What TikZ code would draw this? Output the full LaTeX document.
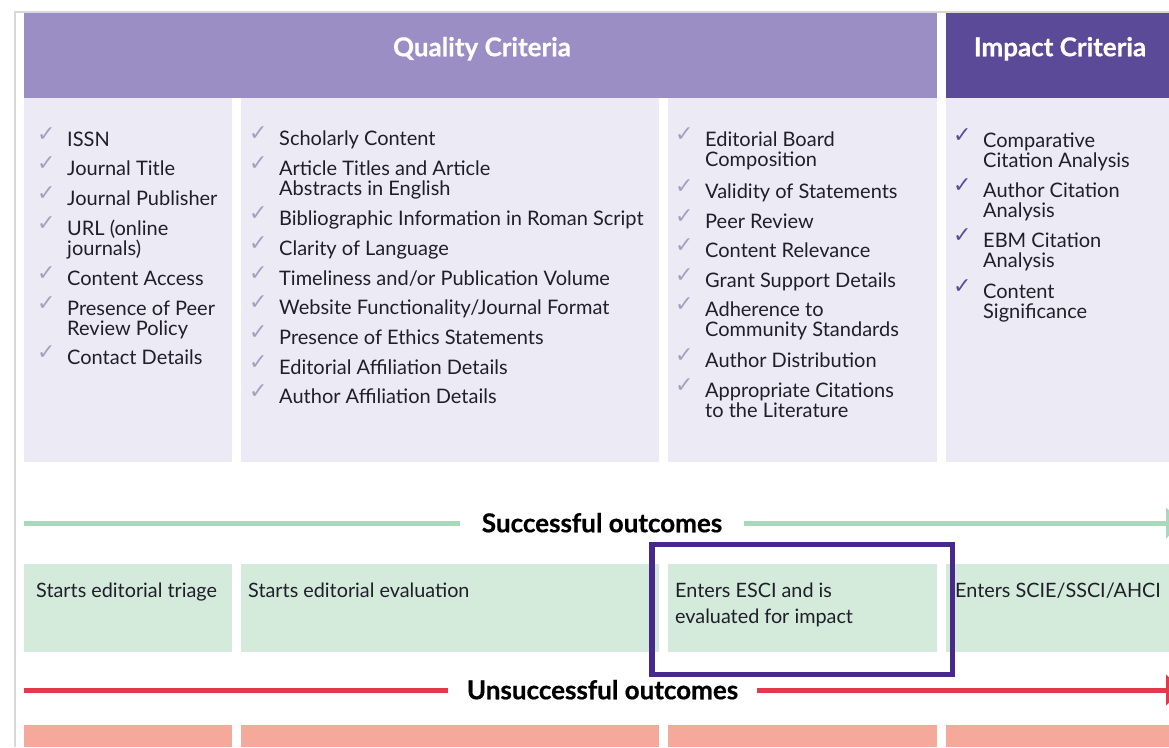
\documentclass[tikz,border=0pt]{standalone}
\usepackage{fontspec}
\setmainfont{Lato}
\newfontfamily\dejavu{DejaVu Sans}
\newfontfamily\heavy[BoldFeatures={FakeBold=0.6}]{Lato}
\usetikzlibrary{arrows.meta}
\definecolor{hdrl}{HTML}{9A8EC4}
\definecolor{hdrd}{HTML}{5A4A97}
\definecolor{lav}{HTML}{ECEAF5}
\definecolor{gline}{HTML}{A8D9BA}
\definecolor{gcell}{HTML}{D4EADB}
\definecolor{rline}{HTML}{E5384C}
\definecolor{rcell}{HTML}{F5A99B}
\definecolor{frm}{HTML}{47298C}
\definecolor{txt}{HTML}{1F1F2A}
\definecolor{chkq}{HTML}{A59FC0}
\definecolor{chki}{HTML}{5D4C98}
\definecolor{gframe}{HTML}{D8D8D8}
\tikzset{
  itm/.style={font=\fontsize{20}{20.8}\selectfont, text=txt, anchor=base west, inner sep=0pt},
  chk/.style={font=\dejavu\fontsize{22}{22}\selectfont, anchor=base west, inner sep=0pt},
  hdr/.style={font=\heavy\bfseries\fontsize{26}{26}\selectfont, text=white, text height=18.5pt, text depth=0pt, inner sep=0pt},
  olbl/.style={font=\heavy\bfseries\fontsize{26}{26}\selectfont, text=black, fill=white, text height=18.5pt, text depth=0pt, inner ysep=2pt},
  otxt/.style={font=\fontsize{19.8}{26.5}\selectfont, text=txt, anchor=base west, inner sep=0pt},
  outarrow/.style={line width=5pt, -{Triangle[length=16pt,width=30pt]}}
}
\newcommand\twol[2]{\vtop{\hbox{#1}\hbox{#2}}}
\newcommand\critem[5]{%
  \node[itm] (#1) at (#2,#3) {#5};
  \node[chk, text=#4] (#1c) at (#2-30,#3-5) {✓};
}
\begin{document}
\begin{tikzpicture}[x=1pt,y=-1pt]
\useasboundingbox (0,0) rectangle (1169,747);
\clip (0,0) rectangle (1169,747);
\fill[white] (0,0) rectangle (1169,747);
% frame
\draw[gframe, line width=2pt] (15,747) -- (15,12) -- (1169,12);
% header
\fill[hdrl] (24,13) rectangle (937,97.5);
\fill[hdrd] (946,13) rectangle (1169,97.5);
\node[hdr] (qc) at (482,47) {Quality Criteria};
\node[hdr] (ic) at (1060,47) {Impact Criteria};
% body cells
\fill[lav] (24,97.5) rectangle (232,462);
\fill[lav] (241,97.5) rectangle (659,462);
\fill[lav] (668,97.5) rectangle (937,462);
\fill[lav] (946,97.5) rectangle (1169,462);
% column 1
\critem{a1}{67}{146}{chkq}{ISSN}
\critem{a2}{67}{175}{chkq}{Journal Title}
\critem{a3}{67}{205}{chkq}{Journal Publisher}
\critem{a4}{67}{235}{chkq}{\twol{URL (online}{journals)}}
\critem{a5}{67}{285}{chkq}{Content Access}
\critem{a6}{67}{315}{chkq}{\twol{Presence of Peer}{Review Policy}}
\critem{a7}{67}{364}{chkq}{Contact Details}
% column 2
\critem{b1}{279}{145}{chkq}{Scholarly Content}
\critem{b2}{279}{175}{chkq}{\twol{Article Titles and Article}{Abstracts in English}}
\critem{b3}{279}{225}{chkq}{Bibliographic Information in Roman Script}
\critem{b4}{279}{255}{chkq}{Clarity of Language}
\critem{b5}{279}{285}{chkq}{Timeliness and/or Publication Volume}
\critem{b6}{279}{314}{chkq}{Website Functionality/Journal Format}
\critem{b7}{279}{344}{chkq}{Presence of Ethics Statements}
\critem{b8}{279}{374}{chkq}{Editorial Affiliation Details}
\critem{b9}{279}{403}{chkq}{Author Affiliation Details}
% column 3
\critem{c1}{705}{146}{chkq}{\twol{Editorial Board}{Composition}}
\critem{c2}{705}{198}{chkq}{Validity of Statements}
\critem{c3}{705}{228}{chkq}{Peer Review}
\critem{c4}{705}{257}{chkq}{Content Relevance}
\critem{c5}{705}{287}{chkq}{Grant Support Details}
\critem{c6}{705}{316}{chkq}{\twol{Adherence to}{Community Standards}}
\critem{c7}{705}{367}{chkq}{Author Distribution}
\critem{c8}{705}{397}{chkq}{\twol{Appropriate Citations}{to the Literature}}
% column 4
\critem{d1}{983}{147}{chki}{\twol{Comparative}{Citation Analysis}}
\critem{d2}{983}{197}{chki}{\twol{Author Citation}{Analysis}}
\critem{d3}{983}{247}{chki}{\twol{EBM Citation}{Analysis}}
\critem{d4}{983}{298}{chki}{\twol{Content}{Significance}}
% successful outcomes
\coordinate (gs) at (24,523);
\coordinate (ge) at (1182,523);
\node[olbl, inner xsep=22pt] (succ) at (602,523) {Successful outcomes};
\draw[gline, line width=5pt] (gs) -- (succ);
\draw[gline, outarrow] (succ) -- (ge);
\fill[gcell] (24,563.5) rectangle (232,651.5);
\fill[gcell] (241,563.5) rectangle (659,651.5);
\fill[gcell] (668,563.5) rectangle (937,651.5);
\fill[gcell] (946,563.5) rectangle (1169,651.5);
\node[otxt] (s1) at (36,597) {Starts editorial triage};
\node[otxt] (s2) at (248,597) {Starts editorial evaluation};
\node[otxt] (s3) at (675,597) {\twol{Enters ESCI and is}{evaluated for impact}};
\node[otxt] (s4) at (955,597) {Enters SCIE/SSCI/AHCI};
\draw[frm, line width=5.5pt] (652,544.5) rectangle (952.5,674.5);
% unsuccessful outcomes
\coordinate (rs) at (24,690);
\coordinate (re) at (1182,690);
\node[olbl, inner xsep=19pt] (unsucc) at (602.5,690) {Unsuccessful outcomes};
\draw[rline, line width=5pt] (rs) -- (unsucc);
\draw[rline, outarrow] (unsucc) -- (re);
\fill[rcell] (24,724.5) rectangle (232,747);
\fill[rcell] (241,724.5) rectangle (659,747);
\fill[rcell] (668,724.5) rectangle (937,747);
\fill[rcell] (946,724.5) rectangle (1169,747);
\end{tikzpicture}
\end{document}
